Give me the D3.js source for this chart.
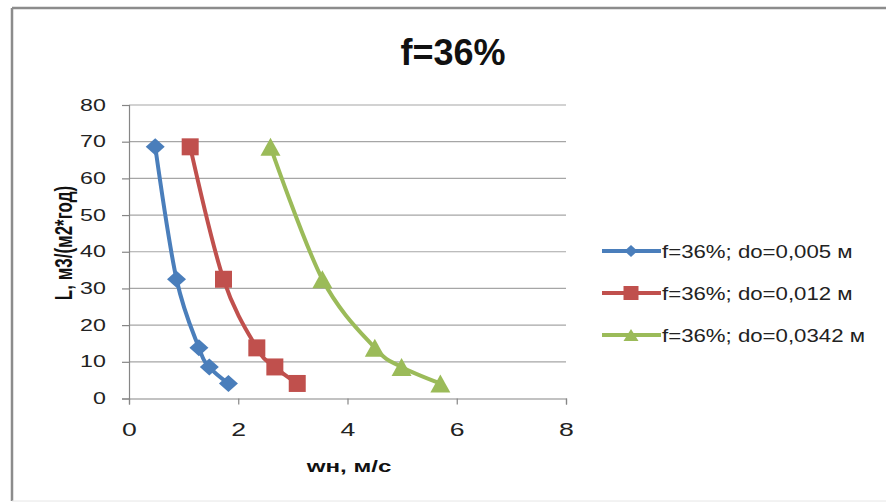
<!DOCTYPE html>
<html><head><meta charset="utf-8">
<script src="https://cdn.jsdelivr.net/npm/d3@7"></script>
<style>body{margin:0;background:#fff}svg{display:block}</style>
</head><body>
<svg id="c" width="886" height="502"></svg>
<script>
const titleText = "f=36%";
const xTitle = "wн, м/с";
const yTitle = "L, м3/(м2*год)";
const xTicks = [0, 2, 4, 6, 8];
const yTicks = [0, 10, 20, 30, 40, 50, 60, 70, 80];
const seriesNames = ["f=36%; do=0,005 м", "f=36%; do=0,012 м", "f=36%; do=0,0342 м"];
const yValues = [68.6, 32.5, 13.8, 8.6, 4.1];
const xSeries1 = [0.48, 0.87, 1.28, 1.47, 1.82];
const xSeries2 = [1.12, 1.73, 2.34, 2.67, 3.08];
const xSeries3 = [2.59, 3.54, 4.50, 4.99, 5.70];
const colors = ["#4A7EBB", "#C0504D", "#9BBB59"];

const svg = d3.select("#c");
const font = "'Liberation Sans', Arial, sans-serif";

// marker shapes (w = width, h = height)
function markerPath(kind, w, h) {
  const a = w / 2, b = h / 2;
  if (kind === 0) return `M0,${-b}L${a},0L0,${b}L${-a},0Z`;
  if (kind === 1) return `M${-a},${-b}H${a}V${b}H${-a}Z`;
  return `M0,${-b}L${a},${b}L${-a},${b}Z`;
}

// frame
svg.append("line").attr("x1",12).attr("y1",8).attr("x2",886).attr("y2",8).attr("stroke","#8c8c8c").attr("stroke-width",2.5);
svg.append("line").attr("x1",12).attr("y1",8).attr("x2",12).attr("y2",501).attr("stroke","#8c8c8c").attr("stroke-width",2.5);
svg.append("line").attr("x1",12).attr("y1",501).attr("x2",886).attr("y2",501).attr("stroke","#e6e6e6").attr("stroke-width",1);

const x = d3.scaleLinear().domain([0, 8]).range([129, 566]);
const y = d3.scaleLinear().domain([0, 80]).range([398.5, 105]);

// gridlines
svg.append("g").selectAll("line").data(yTicks.filter(d => d > 0)).join("line")
  .attr("x1", x(0)).attr("x2", x(8)).attr("y1", d => y(d)).attr("y2", d => y(d))
  .attr("stroke", "#a6a6a6").attr("stroke-width", 1.2);

// axes
const xAxis = svg.append("g").attr("transform", `translate(0,${y(0)})`)
  .call(d3.axisBottom(x).tickValues(xTicks).tickSize(6).tickPadding(14).tickFormat(d3.format("d")));
const yAxis = svg.append("g").attr("transform", `translate(${x(0)},0)`)
  .call(d3.axisLeft(y).tickValues(yTicks).tickSize(7).tickPadding(9).tickFormat(d3.format("d")));
[xAxis, yAxis].forEach(a => {
  a.select(".domain").attr("stroke", "#868686").attr("stroke-width", 1.2);
  a.selectAll(".tick line").attr("stroke", "#868686").attr("stroke-width", 1.2);
  a.selectAll("text").attr("font-family", font).attr("fill", "#222");
});
xAxis.selectAll("text").attr("font-size", 19).attr("dy", null).attr("y", 37.5)
  .attr("transform", "scale(1.4,1)");
yAxis.selectAll("text").attr("font-size", 16).attr("transform", "scale(1.45,1)");

// titles
svg.append("text").attr("x", 453).attr("y", 65).attr("text-anchor", "middle")
  .attr("font-family", font).attr("font-weight", "bold").attr("font-size", 36).attr("fill", "#111").text(titleText);
svg.append("text").attr("transform", "translate(349,472) scale(1.42,1)").attr("text-anchor", "middle")
  .attr("font-family", font).attr("font-weight", "bold").attr("font-size", 17).attr("fill", "#111").text(xTitle);
svg.append("text").attr("transform", "translate(72,243) scale(1.4,1) rotate(-90)").attr("text-anchor", "middle")
  .attr("font-family", font).attr("font-weight", "bold").attr("font-size", 17).attr("fill", "#111").text(yTitle);

// series
const xs = [xSeries1, xSeries2, xSeries3];
const line = d3.line().x(d => x(d[0])).y(d => y(d[1])).curve(d3.curveCardinal.tension(0));
const mSize = [[19, 17], [17, 17], [20, 18]];
xs.forEach((xv, i) => {
  const pts = xv.map((v, k) => [v, yValues[k]]);
  svg.append("path").attr("d", line(pts)).attr("fill", "none")
    .attr("stroke", colors[i]).attr("stroke-width", 4);
  svg.append("g").selectAll("path").data(pts).join("path")
    .attr("transform", d => `translate(${x(d[0])},${y(d[1])})`)
    .attr("d", markerPath(i, mSize[i][0], mSize[i][1]))
    .attr("fill", colors[i]);
});

// legend
const legRows = [251, 293, 335];
const lSize = [[13, 12], [15, 14], [15, 12]];
seriesNames.forEach((name, i) => {
  const g = svg.append("g").attr("transform", `translate(0,${legRows[i]})`);
  g.append("line").attr("x1", 602).attr("x2", 661).attr("y1", 0).attr("y2", 0)
    .attr("stroke", colors[i]).attr("stroke-width", 4);
  g.append("path").attr("transform", `translate(631,0)`)
    .attr("d", markerPath(i, lSize[i][0], lSize[i][1])).attr("fill", colors[i]);
  g.append("text").attr("transform", "translate(662,6.5) scale(1.17,1)").attr("font-family", font)
    .attr("font-size", 19).attr("fill", "#222").text(name);
});
</script>
</body></html>
